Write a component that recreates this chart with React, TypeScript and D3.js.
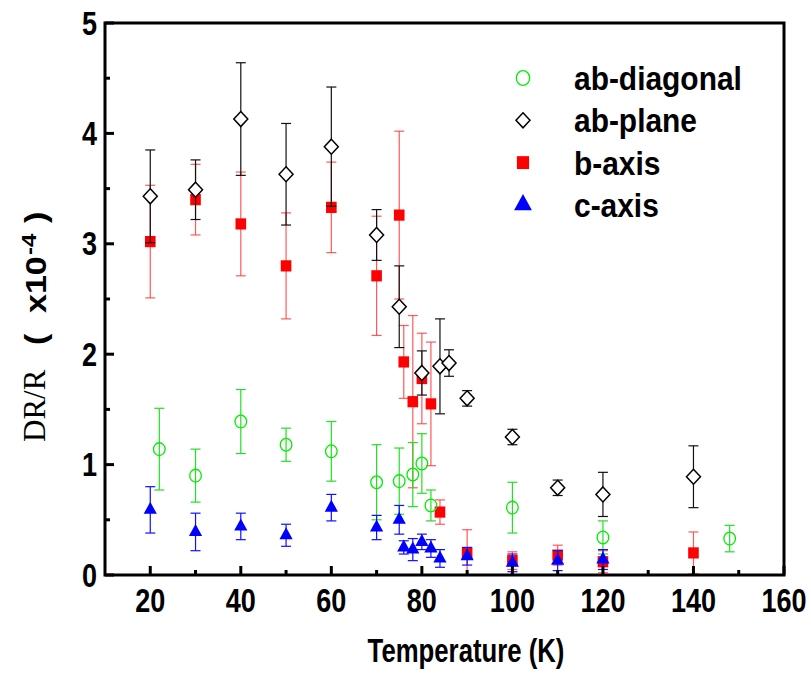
import React from 'react';
import * as d3 from 'd3';

// ---------- data ----------
const abDiagT = [22, 30, 40, 50, 60, 70, 75, 78, 80, 82, 100, 120, 148];
const abDiagV = [1.14, 0.9, 1.39, 1.18, 1.12, 0.84, 0.85, 0.91, 1.01, 0.63, 0.61, 0.34, 0.33];
const abDiagE = [0.37, 0.24, 0.29, 0.15, 0.27, 0.34, 0.3, 0.29, 0.27, 0.14, 0.23, 0.15, 0.12];

const abPlaneT = [20, 30, 40, 50, 60, 70, 75, 80, 84, 86, 90, 100, 110, 120, 140];
const abPlaneV = [3.43, 3.49, 4.13, 3.63, 3.88, 3.08, 2.43, 1.83, 1.89, 1.92, 1.6, 1.25, 0.79, 0.73, 0.89];
const abPlaneE = [0.42, 0.27, 0.51, 0.46, 0.54, 0.23, 0.37, 0.2, 0.43, 0.12, 0.07, 0.07, 0.07, 0.2, 0.28];

const bAxisT = [20, 30, 40, 50, 60, 70, 75, 76, 78, 80, 82, 84, 90, 100, 110, 120, 140];
const bAxisV = [3.02, 3.4, 3.18, 2.8, 3.33, 2.71, 3.26, 1.93, 1.57, 1.78, 1.55, 0.57, 0.2, 0.13, 0.18, 0.12, 0.2];
const bAxisE = [0.51, 0.32, 0.47, 0.48, 0.41, 0.54, 0.76, 0.33, 0.78, 0.41, 0.56, 0.11, 0.21, 0.08, 0.09, 0.1, 0.19];

const cAxisT = [20, 30, 40, 50, 60, 70, 75, 76, 78, 80, 82, 84, 90, 100, 110, 120];
const cAxisV = [0.59, 0.39, 0.44, 0.36, 0.61, 0.43, 0.5, 0.25, 0.23, 0.3, 0.24, 0.15, 0.17, 0.11, 0.13, 0.14];
const cAxisE = [0.21, 0.17, 0.12, 0.1, 0.12, 0.11, 0.13, 0.06, 0.1, 0.07, 0.08, 0.08, 0.08, 0.08, 0.09, 0.09];

const xMajorTicks = [20, 40, 60, 80, 100, 120, 140, 160];
const xMinorTicks = [30, 50, 70, 90, 110, 130, 150];
const yMajorTicks = [0, 1, 2, 3, 4, 5];
const yMinorTicks = [0.5, 1.5, 2.5, 3.5, 4.5];

const legendLabels = ['ab-diagonal', 'ab-plane', 'b-axis', 'c-axis'];

// ---------- styles ----------
const SANS = 'Liberation Sans, Arial, sans-serif';
const SERIF = 'Liberation Serif, Times New Roman, serif';
const GREEN = '#00ee00';
const RED = '#ff0000';
const BLUE = '#0000ff';
const BLACK = '#000000';

type Shape = 'circle' | 'diamond' | 'square' | 'triangle';

function Marker({ shape, cx, cy, color, s = 1 }: { shape: Shape; cx: number; cy: number; color: string; s?: number }) {
  if (shape === 'circle') {
    return <ellipse cx={cx} cy={cy} rx={5.8 * s} ry={6.4 * s} fill="white" fillOpacity={0} stroke={color} strokeWidth={1.3} />;
  }
  if (shape === 'diamond') {
    const w = 7 * s, h = 7.5 * s;
    const p = d3.path();
    p.moveTo(cx, cy - h); p.lineTo(cx + w, cy); p.lineTo(cx, cy + h); p.lineTo(cx - w, cy); p.closePath();
    return <path d={p.toString()} fill="white" stroke={color} strokeWidth={1.5} />;
  }
  if (shape === 'square') {
    const w = 5.3 * s, h = 5.6 * s;
    return <rect x={cx - w} y={cy - h} width={2 * w} height={2 * h} fill={color} />;
  }
  const w = 6.6 * s, h = 12 * s;
  const p = d3.path();
  p.moveTo(cx, cy - (2 * h) / 3); p.lineTo(cx + w, cy + h / 3); p.lineTo(cx - w, cy + h / 3); p.closePath();
  return <path d={p.toString()} fill={color} />;
}

export default function App() {
  const W = 811, H = 681;
  const x = d3.scaleLinear().domain([10, 160]).range([105, 784]);
  const y = d3.scaleLinear().domain([0, 5]).range([575, 23]);
  const [x0, x1] = x.range();
  const [y0, y1] = y.range();

  const series = [
    { T: bAxisT, V: bAxisV, E: bAxisE, shape: 'square' as Shape, color: RED, bar: '#ff3030', barOp: 0.8 },
    { T: abDiagT, V: abDiagV, E: abDiagE, shape: 'circle' as Shape, color: GREEN, bar: '#22e022', barOp: 1 },
    { T: abPlaneT, V: abPlaneV, E: abPlaneE, shape: 'diamond' as Shape, color: BLACK, bar: '#111111', barOp: 1 },
    { T: cAxisT, V: cAxisV, E: cAxisE, shape: 'triangle' as Shape, color: BLUE, bar: '#1010ff', barOp: 1 },
  ];

  const legendItems = [
    { label: legendLabels[0], shape: 'circle' as Shape, color: GREEN, s: 1.15 },
    { label: legendLabels[1], shape: 'diamond' as Shape, color: BLACK, s: 1.0 },
    { label: legendLabels[2], shape: 'square' as Shape, color: RED, s: 1.15 },
    { label: legendLabels[3], shape: 'triangle' as Shape, color: BLUE, s: 1.35 },
  ];

  const cap = 5;

  return (
    <svg width={W} height={H} style={{ position: 'absolute', left: 0, top: 0, background: 'white' }}>
      <rect x={0} y={0} width={W} height={H} fill="white" />

      {/* data */}
      {series.map((sr, si) => (
        <g key={si}>
          {sr.T.map((t, i) => {
            const cx = x(t);
            const lo = y(Math.max(0, sr.V[i] - sr.E[i]));
            const hi = y(sr.V[i] + sr.E[i]);
            return (
              <g key={i} stroke={sr.bar} strokeOpacity={sr.barOp} strokeWidth={1.2}>
                <line x1={cx} x2={cx} y1={lo} y2={hi} />
                <line x1={cx - cap} x2={cx + cap} y1={lo} y2={lo} />
                <line x1={cx - cap} x2={cx + cap} y1={hi} y2={hi} />
              </g>
            );
          })}
          {sr.T.map((t, i) => (
            <Marker key={'m' + i} shape={sr.shape} cx={x(t)} cy={y(sr.V[i])} color={sr.color} />
          ))}
        </g>
      ))}

      {/* frame */}
      <rect x={x0} y={y1} width={x1 - x0} height={y0 - y1} fill="none" stroke="black" strokeWidth={3} />

      {/* x ticks */}
      {xMajorTicks.map((t) => (
        <line key={'xM' + t} x1={x(t)} x2={x(t)} y1={y0} y2={y0 - 9} stroke="black" strokeWidth={3} />
      ))}
      {xMinorTicks.map((t) => (
        <line key={'xm' + t} x1={x(t)} x2={x(t)} y1={y0} y2={y0 - 5} stroke="black" strokeWidth={3} />
      ))}
      {xMajorTicks.map((t) => (
        <text key={'xl' + t} transform={`translate(${x(t)},612) scale(0.82,1)`} textAnchor="middle"
          fontFamily={SANS} fontWeight="bold" fontSize={33}>{t}</text>
      ))}

      {/* y ticks */}
      {yMajorTicks.map((v) => (
        <line key={'yM' + v} x1={x0} x2={x0 + 9} y1={y(v)} y2={y(v)} stroke="black" strokeWidth={3} />
      ))}
      {yMinorTicks.map((v) => (
        <line key={'ym' + v} x1={x0} x2={x0 + 5} y1={y(v)} y2={y(v)} stroke="black" strokeWidth={3} />
      ))}
      {yMajorTicks.map((v) => (
        <text key={'yl' + v} transform={`translate(97,${y(v) + 11.5}) scale(0.82,1)`} textAnchor="end"
          fontFamily={SANS} fontWeight="bold" fontSize={33}>{v}</text>
      ))}

      {/* axis titles */}
      <text transform={`translate(466,662) scale(0.78,1)`} textAnchor="middle" fontFamily={SANS}
        fontWeight="bold" fontSize={33}>Temperature (K)</text>

      <text transform="translate(45,442) rotate(-90)" fontFamily={SERIF} fontSize={31}>DR/R</text>
      <g transform="translate(46,442) scale(0.85,1) rotate(-90)">
        <text fontFamily={SANS} fontWeight="bold" fontSize={34}>
          <tspan x={97}>(</tspan>
          <tspan x={129}>x10</tspan>
          <tspan x={187} dy={-12} fontSize={24}>-4</tspan>
          <tspan x={219} dy={12}>)</tspan>
        </text>
      </g>

      {/* legend */}
      {legendItems.map((it, i) => {
        const cy = 78 + i * 42.3;
        return (
          <g key={'lg' + i}>
            <Marker shape={it.shape} cx={523} cy={cy} color={it.color} s={it.s} />
            <text transform={`translate(574,${cy + 12}) scale(0.88,1)`} fontFamily={SANS} fontWeight="bold"
              fontSize={34}>{it.label}</text>
          </g>
        );
      })}
    </svg>
  );
}
